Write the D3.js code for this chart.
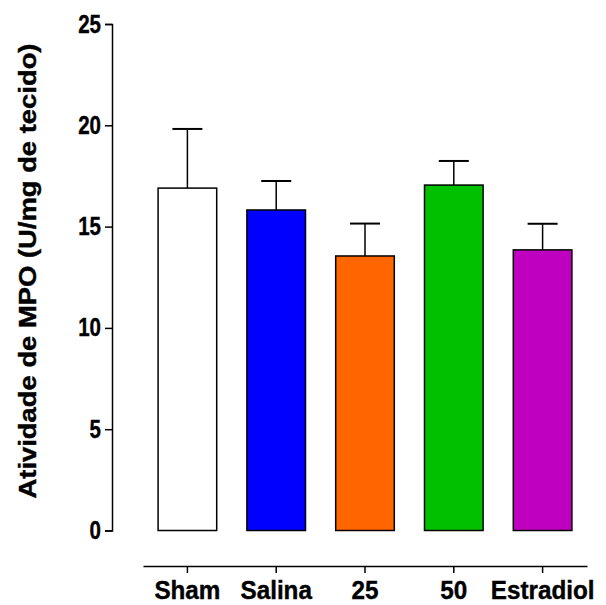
<!DOCTYPE html>
<html>
<head>
<meta charset="utf-8">
<script src="https://cdn.jsdelivr.net/npm/d3@7"></script>
<style>
  body { margin: 0; background: #fff; }
  text { font-family: "Liberation Sans", Arial, sans-serif; font-weight: bold; }
</style>
</head>
<body>
<div id="chart"></div>
<script>
// dados
var groups = ["Sham", "Salina", "25", "50", "Estradiol"];
var means = [16.9, 15.82, 13.55, 17.05, 13.85];
var sem = [2.92, 1.43, 1.6, 1.19, 1.29];
var colors = ["#ffffff", "#0000ff", "#ff6600", "#00c000", "#c000c0"];
var yTicks = [0, 5, 10, 15, 20, 25];

var width = 606, height = 605;

var svg = d3.select("#chart")
    .append("svg")
    .attr("width", width)
    .attr("height", height);

var x = d3.scaleBand()
    .domain(groups)
    .range([143, 587]);

var y = d3.scaleLinear()
    .domain([0, 25])
    .range([530.5, 24]);

var barW = x.bandwidth() * 0.66;

// texto um pouco estreito, como no original
function squeeze(sel, size, factor) {
    sel.attr("font-size", size)
        .attr("fill", "#000")
        .attr("stroke", "#000")
        .attr("stroke-width", 0.4)
        .attr("font-family", "Liberation Sans, Arial, sans-serif")
        .attr("font-weight", "bold")
        .each(function () {
            var w = this.getComputedTextLength();
            d3.select(this)
                .attr("textLength", w * factor)
                .attr("lengthAdjust", "spacingAndGlyphs");
        });
}

// eixo Y
var yAxis = svg.append("g")
    .attr("transform", "translate(112,0)")
    .call(d3.axisLeft(y).tickValues(yTicks).tickSize(7).tickPadding(4));
yAxis.selectAll("path, line").attr("stroke", "#000").attr("stroke-width", 1.5);
squeeze(yAxis.selectAll("text"), 25, 0.82);

// eixo X
var xAxis = svg.append("g")
    .attr("transform", "translate(0,566)")
    .call(d3.axisBottom(x).tickSize(7).tickSizeOuter(0).tickPadding(8));
xAxis.selectAll("path, line").attr("stroke", "#000").attr("stroke-width", 1.5);
squeeze(xAxis.selectAll("text"), 25, 0.97);

// barras de erro
svg.selectAll("line.err")
    .data(groups)
    .enter()
    .append("line")
    .attr("class", "err")
    .attr("x1", d => x(d) + x.bandwidth() / 2)
    .attr("x2", d => x(d) + x.bandwidth() / 2)
    .attr("y1", (d, i) => y(means[i]))
    .attr("y2", (d, i) => y(means[i] + sem[i]))
    .attr("stroke", "#000")
    .attr("stroke-width", 1.5);

svg.selectAll("line.cap")
    .data(groups)
    .enter()
    .append("line")
    .attr("class", "cap")
    .attr("x1", d => x(d) + x.bandwidth() / 2 - 15)
    .attr("x2", d => x(d) + x.bandwidth() / 2 + 15)
    .attr("y1", (d, i) => y(means[i] + sem[i]))
    .attr("y2", (d, i) => y(means[i] + sem[i]))
    .attr("stroke", "#000")
    .attr("stroke-width", 2);

// barras
svg.selectAll("rect")
    .data(groups)
    .enter()
    .append("rect")
    .attr("x", d => x(d) + (x.bandwidth() - barW) / 2)
    .attr("y", (d, i) => y(means[i]))
    .attr("width", barW)
    .attr("height", (d, i) => y(0) - y(means[i]))
    .attr("fill", (d, i) => colors[i])
    .attr("stroke", "#000")
    .attr("stroke-width", 1.5);

// titulo Y
svg.append("text")
    .attr("transform", "translate(36,271) rotate(-90)")
    .attr("text-anchor", "middle")
    .attr("font-size", 23)
    .attr("stroke", "#000")
    .attr("stroke-width", 0.4)
    .attr("textLength", 455)
    .attr("lengthAdjust", "spacingAndGlyphs")
    .text("Atividade de MPO (U/mg de tecido)");
</script>
</body>
</html>
